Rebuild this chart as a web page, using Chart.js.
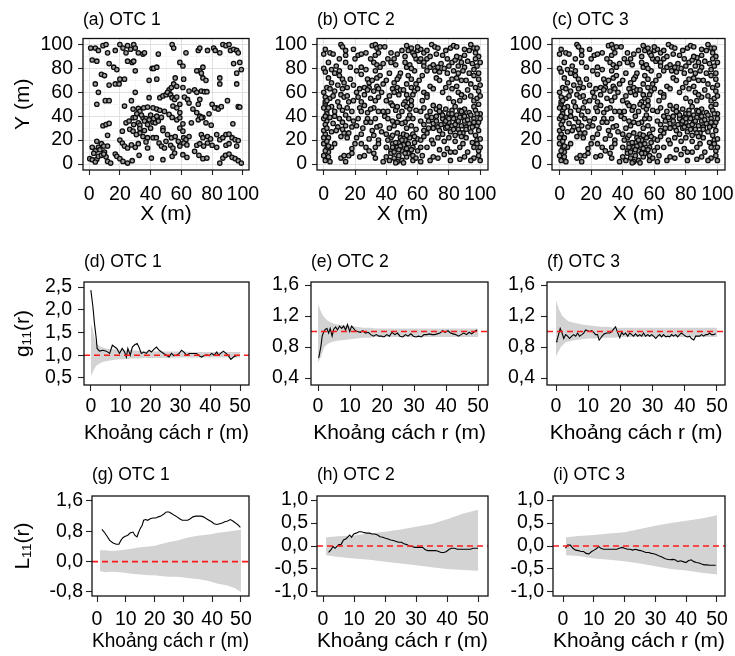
<!DOCTYPE html>
<html><head><meta charset="utf-8">
<script src="https://cdn.jsdelivr.net/npm/chart.js@4.4.1/dist/chart.umd.min.js"></script>
<style>
html,body{margin:0;padding:0;background:#fff;}
#wrap{position:relative;width:735px;height:656px;overflow:hidden;background:#fff;}
#wrap canvas{position:absolute;}
</style></head><body><div id="wrap"></div>
<script>
// ---------------- DATA ----------------
// Tree positions (X, Y in m)
const otc1Points = [
[1,97],[4,97],[6,95],[9,99],[11,100],[12,93],[17,95],[20,100],[22,97],[24,93],[25,99],[27,96],[29,100],[30,97],[32,93],[35,92],[36,93],[45,92],[54,100],[55,97],[63,93],[71,95],[72,97],[77,95],[81,97],[82,95],[85,93],[87,100],[89,99],[91,100],[92,95],[94,96],[96,95],[97,93],
[2,87],[5,86],[13,84],[16,81],[18,79],[25,86],[28,85],[29,86],[30,78],[41,80],[42,80],[44,81],[59,85],[61,82],[72,78],[74,81],[94,84],[98,85],[99,79],
[8,75],[10,74],[20,71],[56,72],[70,78],[73,76],[74,72],[76,70],[85,72],[96,76],
[4,67],[6,60],[13,66],[17,67],[19.5,67],[23,71],[30,60],[39,70],[44,71],[52,62],[53.5,64],[55,67],[57,65],[61.5,71],[61,64],[65,61],[68.6,62],[70,60],[73,61],[75,60.5],[76.6,60.5],[85,67],[96,67],
[5,50],[10.5,53],[13,53],[27.5,53],[39,55.5],[46,55.5],[48,57],[50,58],[51,60],[53,58],[54,55.5],[55.6,54],[57,56],[59,50],[62,56],[64,54],[65,51],[72,54],[71,50],[80,50],[83,47],[90,53],[97,48],
[23,48.5],[28.6,46],[32,46.5],[33,44],[35.5,47],[38,47.6],[41.6,47],[44,46],[46,45],[49,44],[54.5,48.5],[57,47],[59,43],[67.5,46],[70,43],[72,40],[74,39],[78,42],[81.6,47],[84,46],[86,48],[98,47.6],
[9,32],[11,33],[13,34],[24,34.5],[26,36],[28.6,38.7],[30,39],[32,34.5],[33,32.5],[35,38.7],[37,38],[39,37],[41.6,35],[43,34.5],[47,39],[48,30],[52,41.5],[54,39],[57,37],[59,38.7],[61,33.6],[66.5,34.5],[71,37],[73,38.7],[76,34.5],[79.4,32.5],[93.5,33.6],
[31,42],[34,41],[36,36],[38,33],[40,41],[42,38],[44,40],[36,28],[40,30],[33,26],[29,33],[45,36],
[12,24],[21.6,27.5],[26.4,29],[28.6,27.5],[30.7,24.6],[33,29.7],[35,23],[38,22],[41.6,22],[43.7,22],[48,28],[51,24.6],[53.5,22],[56,23],[59,30],[61,27.5],[61.5,22],[63,20.4],[65,23],[73,24.6],[74,22],[77,23],[79,21],[83,24.6],[85,20.4],[87,22],[89,24.6],[91,25],[93,22],[95,20.4],[97,19.6],
[5,19],[8,17],[9.5,15],[12,15],[6,14],[4,11],[20,20],[21.6,17.6],[23,15],[25,13.4],[27.5,16],[30,14],[32,17],[37,18.5],[38,13.4],[45.5,17.6],[47,15],[49,13.4],[50,19],[53,15.7],[54.5,13.4],[58,19],[59,15],[61.5,17.6],[63.6,16],[70,15.7],[72,17],[74.5,15],[77,17.6],[80,15.7],[83,14],[89,15.7],[91,17],[96,15],
[2,14],[3,9],[5,4],[7,12],[10,10],[11,6],
[0.4,4.5],[2,3.6],[4,1.7],[6,6.4],[8,7.3],[9.5,8.4],[12,2.2],[14,0.8],[17,8.4],[18,6.4],[20,4.5],[22,2.2],[25,0.8],[28,2.8],[32.5,7.3],[40.5,5],[48,3.6],[54,6.4],[55.6,9.2],[61,7.8],[63.6,5.6],[68.6,10.6],[71.4,7.3],[74,4.5],[76.6,5],[85,0.8],[87,5],[88.7,7.3],[91,8.4],[93,5.6],[95,4.5],[97,2.8],[99,0.8]
];
const otc2Points = [
[0,92],[1,96],[4,93],[6,92],[11,100],[12,98],[14,95],[14,91],[20,88],[22,91],[24,92],[31,99],[33,100],[34,97],[36,98],[39,98],[33,91],[35,93],[43,93],[53,99],[54,95],[56,97],[57,93],[60,95],[62,96],[64,93],[66,95],[69,100],[71,98],[73,97],[78,95],[81,97],[83,99],[87,89],[90,91],[93,95],[94,100],[96,97],[97,93],[99,90],
[0,80],[1,77],[5,79],[7,76],[10,78],[14,85],[24,81],[27,79],[32,85],[34,83],[36,81],[33,78],[43,85],[46,83],[49,76],[48,73],[52,85],[53,81],[55,83],[59,88],[61,86],[64,85],[66,88],[68,81],[70,83],[71,78],[73,81],[74,77],[79,88],[80,82],[82,85],[84,87],[86,82],[88,85],[90,81],[96,79],[98,82],[99,76],
[3,72],[10,74],[12,71],[17,71],[28,71],[29,68],[31,70],[34,72],[36,74],[47,71],[45,68],[54,74],[56,71],[72,72],[74,70],[82,71],[85,72],[88,70],[96,74],[99,71],
[2,64],[4,63],[9,66],[12,63],[15,64],[21,60],[23,63],[26,64],[29,64],[32,61],[34,65],[35,63],[44,63],[47,64],[49,62],[53,67],[56,64],[58,61],[60,63],[64,60],[66,58],[82,63],[85,65],[94,67],[97,64],[99,61],
[1,56],[4,55],[6,57],[11,58],[13,56],[15,57],[19,53],[22,56],[24,52],[30,55],[33,53],[35,56],[40,53],[43,51],[52,52],[54,55],[56,53],[63,53],[66,56],[80,55],[83,52],[87,53],[90,56],[94,57],[96,53],[98,55],[100,57],
[1,50],[2,45],[5,48],[7,44],[10,48],[12,45],[15,47],[18,44],[23,47],[26,49],[28,43],[32,47],[35,44],[41,44],[44,49],[46,45],[51,50],[53,48],[55,46],[56,49],[59,45],[62,44],[64,47],[70,49],[72,46],[74,48],[75,43],[78,46],[80,42],[82,45],[84,48],[85,41],[87,45],[89,42],[90,46],[93,43],[96,48],[97,45],[99,50],[100,42],
[2,36],[4,39],[6,34],[9,31],[12,35],[14,32],[16,38],[18,31],[21,32],[28,38],[30,35],[34,31],[36,32],[39,40],[41,38],[45,32],[47,35],[52,35],[54,38],[56,32],[62,36],[64,33],[67,36],[69,39],[70,34],[72,40],[73,31],[76,38],[77,34],[79,39],[80,35],[82,32],[83,38],[85,35],[87,39],[88,32],[90,36],[91,31],[93,34],[96,38],[98,32],[99,35],
[74,28],[76,25],[78,30],[81,27],[84,24],[86,29],[89,26],[94,27],[97,24],
[1,25],[3,22],[5,27],[11,23],[13,26],[15,22],[21,22],[24,25],[29,21],[32,24],[35,20],[40,25],[43,22],[47,26],[49,22],[51,25],[57,25],[60,21],[64,23],[66,26],[69,20],[91,22],[98,20],
[0,17],[2,13],[3,10],[5,14],[7,17],[18,13],[20,17],[24,17],[27,14],[29,11],[33,14],[35,17],[40,14],[43,11],[44,17],[47,14],[48,18],[50,11],[51,16],[53,13],[54,17],[55,10],[57,14],[60,11],[62,14],[70,17],[79,13],[81,10],[87,14],[89,17],[96,14],[98,17],[99,11],
[0,7],[1,3],[3,6],[4,2],[11,5],[13,7],[14,2],[16,7],[18,9],[23,6],[26,7],[32,9],[33,5],[38,2],[40,6],[43,9],[45,5],[47,2],[48,7],[50,3],[51,1],[53,6],[54,9],[57,3],[57,7],[62,2],[63,7],[70,6],[81,3],[87,4],[90,6],[96,5],[99,7],[100,3],
[0,60],[1,52],[0,47],[2,42],[0,38],[1,33],[0,28],[2,19],[1,11],[3,15],[0,22],[2,30],[1,40],[3,47],[2,53],
[8,28],[10,38],[14,41],[16,26],[19,36],[7,40],[12,29],
[22,38],[25,30],[27,35],[31,28],[33,38],[37,27],[38,44],[24,44],[30,46],[26,58],[28,62],[37,60],[38,67],[40,70],[42,76],[41,88],[38,84],[30,88],[27,93],[19,96],[17,81],[21,78],[24,75],[19,66],[16,52],[9,52],[7,61],[13,68],[5,68],[8,82],[3,85],[10,88],
[41,20],[44,24],[46,18],[49,15],[52,20],[55,22],[58,18],[45,10],[48,12],[52,9],[56,12],[59,5],[42,3],[44,14],[50,20],[53,24],[58,23],[46,1],
[42,30],[44,36],[48,40],[50,34],[53,30],[55,41],[57,38],[59,29],[50,44],[47,48],
[42,57],[45,60],[48,58],[51,62],[53,58],[57,58],[59,67],[61,70],[63,74],[58,78],[56,80],[52,90],[50,95],[47,92],[45,88],[58,91],[62,88],[64,82],[66,78],[60,98],
[68,65],[70,63],[76,60],[78,64],[80,68],[86,60],[88,58],[92,62],[91,70],[93,76],[95,84],[97,88],[92,86],[85,90],[77,80],[75,84],[79,76],[83,78],[86,76],[89,78],[76,91],[72,92],[68,90],[85,98],[90,96],[98,97],[100,85],[100,66],
[66,40],[68,44],[70,30],[72,36],[74,44],[76,41],[78,36],[80,38],[82,42],[84,33],[86,36],[88,44],[90,40],[92,37],[94,41],[96,35],[98,42],[100,38],[75,33],[79,31],[83,29],[87,26],[91,29],[95,31],[99,28],[73,22],[77,19],[80,22],[84,19],[88,23],[95,18],[100,21],[67,30],[64,28],[62,20],[66,14],[74,12],[77,8],[84,10],[92,10],[94,3],[100,14],[68,3],[73,5]
];
// OTC 3 map in the reference shows the same pattern as OTC 2
const otc3Points = otc2Points;

// Pair-correlation g11(r): observed
const gOtc1R = [0,0.7,1.2,1.8,2.1,2.9,4,5.2,6.3,7.2,8,8.7,9.6,10.5,11.3,11.9,12.4,13.2,13.9,14.7,15.5,16.1,16.9,17.7,18.6,19.5,20.3,21.1,22,22.9,23.7,24.4,25.3,26.2,27,27.8,28.7,29.6,30.4,31.2,32.1,33,33.7,34.5,35.4,36.3,37.1,37.9,38.8,39.7,40.5,41.3,42.2,42.8,43.5,44.4,45.3,46.1,46.9,47.8,48.7,49.4];
const gOtc1 = [2.43,2.06,1.7,1.37,1.15,1.09,1.11,1.09,1.04,1.22,1.18,1.15,1.04,1.15,1.07,0.96,1.15,1.0,1.18,1.23,1.26,1.18,1.04,1.07,1.04,1.11,1.07,1.13,1.18,1.11,1.07,1.04,1.0,0.96,1.04,0.99,1.0,1.04,1.11,1.07,1.0,1.04,1.04,1.04,1.04,0.99,0.96,0.99,1.01,0.99,1.04,1.0,1.07,1.0,1.04,1.09,1.04,0.99,0.91,0.96,0.99,1.0];
const gOtc2R = [0.2,0.5,0.9,1.3,1.8,2.3,2.8,3.3,3.8,4.4,4.9,5.5,6.1,6.7,7.4,8,8.6,9.2,9.9,10.5,11.1,11.7,12.3,13.2,14,14.8,15.7,16.5,17.3,18.2,19,19.8,20.6,21.5,22.3,23.1,24,24.8,25.6,26.5,27.3,28.1,29,29.8,30.6,31.4,32.3,33.1,33.9,34.8,35.6,36.4,37.2,38.1,38.9,39.7,40.6,41.4,42.2,43,43.9,44.7,45.5,46.4,47.2,48,48.9,49.7];
const gOtc2 = [0.66,0.72,0.81,0.94,1.0,1.03,1.04,0.98,1.04,0.94,1.03,1.06,1.02,1.07,1.04,1.07,1.02,1.09,1.0,1.07,1.04,1.01,1.0,0.99,1.01,0.98,0.99,0.96,0.94,0.96,0.94,0.94,0.93,0.96,0.94,0.99,0.96,0.98,0.94,0.93,0.96,0.94,0.97,0.94,0.93,0.94,0.93,0.96,0.96,0.97,0.96,0.96,0.97,0.98,1.01,0.99,1.01,0.98,0.97,0.96,0.94,0.96,0.98,0.96,0.99,0.97,1.0,1.02];
const gOtc3R = [0,0.3,0.8,1.3,1.9,2.4,3,3.6,4.2,4.9,5.5,6.1,6.7,7.3,8,8.6,9.2,9.8,10.5,11.1,11.7,12.3,12.9,13.4,13.8,14.3,15,15.8,16.7,17.3,17.9,18.5,19.2,19.8,20.4,21,21.6,22.3,22.9,23.5,24.1,24.7,25.4,26,26.6,27.2,27.8,28.5,29.1,29.7,30.3,31,31.6,32.2,32.8,33.4,34.1,34.7,35.3,35.9,36.5,37.2,37.8,38.4,39,39.6,40.3,40.9,41.5,42.1,42.8,43.4,44,44.6,45.2,45.9,46.5,47.1,47.7,48.3,49,49.6];
const gOtc3 = [0.87,0.89,0.96,1.04,0.98,0.91,0.96,0.94,0.91,0.94,0.96,0.94,0.98,0.94,0.96,0.98,1.02,1.01,1.0,1.01,0.99,0.96,0.96,0.89,0.91,0.94,0.97,0.98,0.98,1.0,1.03,1.06,0.98,0.92,0.99,0.96,0.98,0.94,0.98,0.96,0.94,0.97,0.94,0.96,0.94,0.98,0.94,0.96,0.94,0.96,0.94,0.91,0.94,0.96,0.93,0.96,0.93,0.94,0.93,0.96,0.94,0.96,0.93,0.96,0.98,0.96,0.94,0.93,0.94,0.91,0.89,0.94,0.94,0.94,0.96,0.94,0.96,0.96,0.98,0.96,0.96,0.97];
// g11 envelopes
const gEnvR = [0,0.5,1,1.5,2,3,4,5,6,8,10,12,14,16,18,20,25,30,35,40,45,50];
const gEnv1Hi = [1.68,1.6,1.45,1.32,1.25,1.2,1.17,1.15,1.14,1.13,1.12,1.11,1.11,1.1,1.09,1.09,1.08,1.08,1.07,1.07,1.07,1.07];
const gEnv1Lo = [0.55,0.6,0.68,0.74,0.78,0.82,0.85,0.87,0.88,0.9,0.91,0.92,0.93,0.93,0.94,0.94,0.94,0.95,0.95,0.95,0.95,0.95];
const gEnv2Hi = [1.35,1.3,1.25,1.21,1.18,1.14,1.12,1.1,1.09,1.08,1.07,1.06,1.05,1.05,1.04,1.04,1.04,1.04,1.04,1.04,1.04,1.04];
const gEnv2Lo = [0.6,0.64,0.68,0.75,0.8,0.84,0.86,0.87,0.88,0.89,0.9,0.91,0.92,0.92,0.93,0.93,0.93,0.93,0.93,0.93,0.93,0.93];
const gEnv3Hi = [1.4,1.34,1.28,1.24,1.2,1.16,1.13,1.12,1.11,1.09,1.08,1.07,1.06,1.06,1.05,1.05,1.05,1.05,1.05,1.05,1.05,1.05];
const gEnv3Lo = [0.68,0.72,0.76,0.8,0.82,0.86,0.87,0.88,0.89,0.9,0.91,0.91,0.92,0.92,0.92,0.93,0.93,0.93,0.93,0.93,0.93,0.93];

// L11(r): observed
const lOtc1R = [1.7,2.5,3.5,4.4,5.6,6.7,7.6,8.3,9,9.8,10.6,11.6,12.5,13.2,13.9,14.4,15,15.7,16.2,16.9,17.6,18.5,19.4,20.4,21.3,22.2,23.1,24.1,25,25.9,26.9,27.8,28.7,29.6,30.6,31.5,32.4,33.3,34.3,35.2,36.1,37,38,38.9,39.8,40.7,41.7,42.6,43.5,44.4,45.4,46.3,47.2,48.1,49.1,49.8];
const lOtc1 = [0.85,0.78,0.67,0.56,0.49,0.46,0.46,0.56,0.63,0.67,0.69,0.76,0.78,0.69,0.65,0.76,0.87,0.96,1.09,1.11,1.09,1.13,1.15,1.15,1.18,1.2,1.25,1.31,1.31,1.27,1.22,1.18,1.13,1.09,1.09,1.09,1.13,1.18,1.2,1.2,1.2,1.18,1.13,1.09,1.05,1.0,0.98,1.0,1.02,1.05,1.07,1.11,1.07,1.02,0.96,0.9];
const lOtc2R = [1.8,2.6,3.2,3.9,4.5,5.1,5.8,6.6,7.3,7.9,8.6,9.2,9.9,10.7,11.6,12.4,13.3,14.1,15,15.8,16.7,17.6,18.4,19.3,20.1,21,21.8,22.7,23.6,24.4,25.3,26.1,27,27.8,28.7,29.6,30.4,31.3,32.1,33,33.8,34.7,35.5,36.4,37.3,38.1,39,39.8,40.7,41.5,42.4,43.3,44.1,45,45.8,46.7,47.5,48.4,49.3,50];
const lOtc2 = [-0.14,-0.08,-0.01,-0.05,-0.01,0.03,0.03,0.13,0.15,0.19,0.24,0.19,0.26,0.28,0.31,0.31,0.29,0.28,0.28,0.26,0.26,0.24,0.2,0.19,0.17,0.15,0.13,0.12,0.1,0.08,0.08,0.05,0.03,0.0,-0.01,-0.03,-0.03,-0.03,-0.03,-0.08,-0.1,-0.1,-0.1,-0.1,-0.12,-0.14,-0.14,-0.12,-0.07,-0.05,-0.05,-0.07,-0.07,-0.07,-0.07,-0.07,-0.07,-0.05,-0.05,-0.05];
const lOtc3R = [0.8,1.5,2.4,3.2,4.1,5,5.8,6.7,7.5,8.4,9.3,10.1,11,11.6,12.3,13.1,14,14.9,15.7,16.6,17.5,18.3,19.2,20,20.9,21.8,22.6,23.5,24.4,25.2,26.1,26.9,27.8,28.7,29.5,30.4,31.3,32.1,33,33.8,34.7,35.6,36.4,37.3,38.1,39,39.9,40.7,41.6,42.5,43.3,44.2,45,45.9,46.8,47.6,48.5,49.6];
const lOtc3 = [-0.05,0.02,0.02,-0.05,-0.09,-0.1,-0.12,-0.12,-0.16,-0.17,-0.12,-0.09,-0.05,-0.01,-0.05,-0.07,-0.07,-0.07,-0.07,-0.07,-0.07,-0.05,-0.03,-0.05,-0.07,-0.07,-0.09,-0.07,-0.09,-0.1,-0.12,-0.14,-0.14,-0.16,-0.17,-0.19,-0.22,-0.24,-0.27,-0.29,-0.3,-0.29,-0.3,-0.34,-0.32,-0.34,-0.36,-0.32,-0.3,-0.34,-0.36,-0.37,-0.39,-0.41,-0.41,-0.42,-0.42,-0.42];
// L11 envelopes
const lEnv1R = [1,3,5,8,10,12,15,18,20,22,25,28,30,32,35,38,40,42,45,48,50];
const lEnv1Hi = [0.3,0.3,0.28,0.3,0.32,0.34,0.38,0.4,0.42,0.46,0.52,0.56,0.6,0.64,0.68,0.71,0.73,0.76,0.79,0.82,0.84];
const lEnv1Lo = [-0.25,-0.28,-0.27,-0.28,-0.3,-0.32,-0.34,-0.36,-0.36,-0.38,-0.4,-0.4,-0.42,-0.44,-0.46,-0.5,-0.54,-0.58,-0.62,-0.7,-0.8];
const lEnvR = [1,5,10,15,20,25,30,35,40,45,50];
const lEnv2Hi = [0.19,0.21,0.23,0.27,0.31,0.36,0.42,0.48,0.58,0.7,0.79];
const lEnv2Lo = [-0.2,-0.24,-0.27,-0.3,-0.34,-0.38,-0.42,-0.46,-0.5,-0.52,-0.54];
const lEnv3Hi = [0.19,0.22,0.24,0.27,0.3,0.37,0.44,0.5,0.55,0.6,0.67];
const lEnv3Lo = [-0.2,-0.22,-0.27,-0.3,-0.33,-0.38,-0.44,-0.5,-0.53,-0.58,-0.62];

const gTheory = 1, lTheory = 0;

// Tick labels
const mapMajorTicks = [0,20,40,60,80,100];
const mapMinorTicks = [10,30,50,70,90];
const rTicks = [0,10,20,30,40,50];
const gTicksOtc1 = [0.5,1.0,1.5,2.0,2.5];
const gTicksOtc23 = [0.4,0.8,1.2,1.6];
const lTicksOtc1 = [-0.8,0.0,0.8,1.6];
const lTicksOtc23 = [-1.0,-0.5,0.0,0.5,1.0];

const titles = ['(a) OTC 1','(b) OTC 2','(c) OTC 3','(d) OTC 1','(e) OTC 2','(f) OTC 3','(g) OTC 1','(h) OTC 2','(i) OTC 3'];
const xTitleMap = 'X (m)', yTitleMap = 'Y (m)';
const xTitleR = 'Khoảng cách r (m)';
const yTitleG = 'g₁₁(r)', yTitleL = 'L₁₁(r)';

// ---------------- LAYOUT ----------------
const FONT = "'Liberation Sans', Arial, Helvetica, sans-serif";
const TXT = '#000';
const wrap = document.getElementById('wrap');

const rows = [
  {ct:0,   ch:230, bt:38.5, bb:170, titlePT:10,   tl:5, xpad:8,   ypad:5, xtPB:3.4},
  {ct:240, ch:208, bt:282,  bb:385, titlePT:11.5, tl:6, xpad:3.6, ypad:6, xtPB:2.0},
  {ct:450, ch:206, bt:496,  bb:596, titlePT:14.5, tl:6, xpad:5.9, ypad:3, xtPB:2.2}
];
const cols = [{cl:0,cw:272},{cl:255,cw:257},{cl:495,cw:240}];
const boxLR = [
  [[83,249],[317,488],[552,725]],
  [[84,249],[311,488],[547,725]],
  [[92,249],[317,488],[553,725]]
];
const xRanges = [
  [[-4,104],[-4.3,105],[-4.8,104.8]],
  [[-2.3,53],[-2.2,53.1],[-2.8,52.5]],
  [[-1.74,52.8],[-1.94,53.2],[-3.25,52.6]]
];
const yRanges = [
  [[-5,105],[-5,105],[-5,105]],
  [[0.346,2.61],[0.31,1.639],[0.31,1.639]],
  [[-0.906,1.73],[-1.087,1.087],[-1.087,1.087]]
];

const boxPlugin = {
  id: 'panelBox',
  afterDraw(chart) {
    const a = chart.chartArea, ctx = chart.ctx;
    ctx.save();
    ctx.strokeStyle = '#111';
    ctx.lineWidth = 1.3;
    ctx.strokeRect(a.left, a.top, a.right - a.left, a.bottom - a.top);
    ctx.restore();
  }
};

function comma(v) { return v.toFixed(1).replace('.', ','); }
function xy(xs, ys) { return xs.map((x, i) => ({x: x, y: ys[i]})); }

function makeAxis(opt) {
  const labelSet = new Set(opt.labels);
  const major = ctx => ctx.tick && labelSet.has(ctx.tick.value);
  const ax = {
    type: 'linear', min: opt.min, max: opt.max,
    afterBuildTicks: s => { s.ticks = opt.all.map(v => ({value: v})); },
    afterFit: s => {
      if (opt.axis === 'x') { s.height = opt.size; s.paddingLeft = 0; s.paddingRight = 0; }
      else { s.width = opt.size; s.paddingTop = 0; s.paddingBottom = 0; }
    },
    border: {display: false},
    grid: {
      drawOnChartArea: opt.gridOn,
      color: ctx => major(ctx) ? '#E0E0E0' : '#EEEEEE',
      lineWidth: ctx => major(ctx) ? 1 : 0.6,
      tickColor: ctx => major(ctx) ? '#222' : 'rgba(0,0,0,0)',
      tickWidth: 1.1,
      tickLength: opt.tl
    },
    ticks: {
      autoSkip: false, maxRotation: 0, minRotation: 0,
      padding: opt.pad, color: TXT,
      font: {family: FONT, size: 19.5},
      callback: v => labelSet.has(v) ? opt.fmt(v) : ''
    },
    title: {display: false}
  };
  if (opt.title) {
    ax.title = {
      display: true, text: opt.title, color: TXT,
      font: {family: FONT, size: 21},
      padding: opt.axis === 'x' ? {top: 0, bottom: opt.titlePad} : {top: opt.titlePad, bottom: 0}
    };
  }
  return ax;
}

function makePanel(ri, ci, type, datasets, xAxisOpt, yAxisOpt) {
  const r = rows[ri], c = cols[ci], [bl, br] = boxLR[ri][ci];
  const cv = document.createElement('canvas');
  cv.width = c.cw; cv.height = r.ch;
  cv.style.left = c.cl + 'px'; cv.style.top = r.ct + 'px';
  cv.style.width = c.cw + 'px'; cv.style.height = r.ch + 'px';
  wrap.appendChild(cv);
  const lineH = 17.5 * 1.2;
  const titlePB = (r.bt - r.ct) - r.titlePT - lineH;
  xAxisOpt.axis = 'x'; xAxisOpt.size = (r.ct + r.ch) - r.bb; xAxisOpt.tl = r.tl; xAxisOpt.pad = r.xpad;
  xAxisOpt.min = xRanges[ri][ci][0]; xAxisOpt.max = xRanges[ri][ci][1]; xAxisOpt.titlePad = r.xtPB;
  yAxisOpt.axis = 'y'; yAxisOpt.size = bl - c.cl; yAxisOpt.tl = r.tl; yAxisOpt.pad = r.ypad;
  yAxisOpt.min = yRanges[ri][ci][0]; yAxisOpt.max = yRanges[ri][ci][1]; yAxisOpt.titlePad = 10.4;
  return new Chart(cv, {
    type: type,
    data: {datasets: datasets},
    options: {
      responsive: false, animation: false, devicePixelRatio: 1,
      layout: {padding: {left: 0, top: 0, bottom: 0, right: (c.cl + c.cw) - br}},
      plugins: {
        legend: {display: false}, tooltip: {enabled: false},
        title: {display: true, text: titles[ri * 3 + ci], align: 'start', fullSize: false,
          color: TXT, font: {family: FONT, size: 17.5, weight: 'normal'},
          padding: {top: r.titlePT, bottom: titlePB}}
      },
      scales: {x: makeAxis(xAxisOpt), y: makeAxis(yAxisOpt)}
    },
    plugins: [boxPlugin]
  });
}

// ---- Row 1: maps ----
const mapAll = mapMajorTicks.concat(mapMinorTicks).sort((a, b) => a - b);
[otc1Points, otc2Points, otc3Points].forEach((pts, ci) => {
  makePanel(0, ci, 'scatter', [{
    data: pts, pointRadius: 2.2, pointBorderWidth: 1.3,
    pointBorderColor: '#0d0d0d', pointBackgroundColor: '#9e9e9e', showLine: false
  }], {
    all: mapAll, labels: mapMajorTicks, fmt: v => String(v), gridOn: true, title: xTitleMap
  }, {
    all: mapAll, labels: mapMajorTicks, fmt: v => String(v), gridOn: true, title: ci === 0 ? yTitleMap : null
  });
});

// ---- Rows 2-3: g11 and L11 ----
function fnDatasets(r, v, er, lo, hi, theo, xmin, xmax) {
  return [
    {data: [{x: xmin, y: theo}, {x: xmax, y: theo}], borderColor: '#FF1A1A', borderWidth: 1.6,
     borderDash: [6, 4], pointRadius: 0, fill: false, order: 0},
    {data: xy(r, v), borderColor: '#000', borderWidth: 1.1, pointRadius: 0, fill: false, tension: 0, order: 1},
    {data: xy(er, lo), borderColor: 'rgba(0,0,0,0)', borderWidth: 0, pointRadius: 0, fill: false, order: 3},
    {data: xy(er, hi), borderColor: 'rgba(0,0,0,0)', borderWidth: 0, pointRadius: 0,
     fill: '-1', backgroundColor: '#D3D3D3', order: 2}
  ];
}
const gSets = [
  [gOtc1R, gOtc1, gEnvR, gEnv1Lo, gEnv1Hi, gTicksOtc1],
  [gOtc2R, gOtc2, gEnvR, gEnv2Lo, gEnv2Hi, gTicksOtc23],
  [gOtc3R, gOtc3, gEnvR, gEnv3Lo, gEnv3Hi, gTicksOtc23]
];
const lSets = [
  [lOtc1R, lOtc1, lEnv1R, lEnv1Lo, lEnv1Hi, lTicksOtc1],
  [lOtc2R, lOtc2, lEnvR, lEnv2Lo, lEnv2Hi, lTicksOtc23],
  [lOtc3R, lOtc3, lEnvR, lEnv3Lo, lEnv3Hi, lTicksOtc23]
];
gSets.forEach((s, ci) => {
  const [xmin, xmax] = xRanges[1][ci];
  makePanel(1, ci, 'line', fnDatasets(s[0], s[1], s[2], s[3], s[4], gTheory, xmin, xmax),
    {all: rTicks, labels: rTicks, fmt: v => String(v), gridOn: false, title: xTitleR},
    {all: s[5], labels: s[5], fmt: comma, gridOn: false, title: ci === 0 ? yTitleG : null});
});
lSets.forEach((s, ci) => {
  const [xmin, xmax] = xRanges[2][ci];
  makePanel(2, ci, 'line', fnDatasets(s[0], s[1], s[2], s[3], s[4], lTheory, xmin, xmax),
    {all: rTicks, labels: rTicks, fmt: v => String(v), gridOn: false, title: xTitleR},
    {all: s[5], labels: s[5], fmt: comma, gridOn: false, title: ci === 0 ? yTitleL : null});
});
</script></body></html>
